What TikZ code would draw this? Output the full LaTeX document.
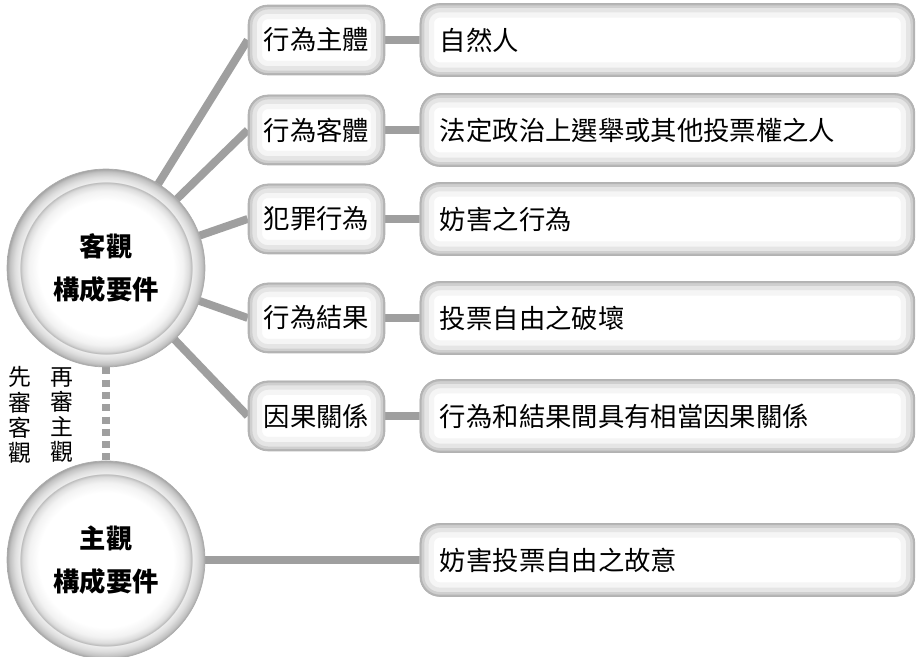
\documentclass[tikz,border=0pt]{standalone}
\usepackage{fontspec}
\setmainfont{Noto Sans CJK TC}
\usepackage{tikz}
\usetikzlibrary{backgrounds}

\pgfdeclareradialshading{ringshade}{\pgfpoint{0bp}{0bp}}{color(0bp)=(white); color(17bp)=(white); color(19.5bp)=(gray!10); color(21bp)=(gray!28); color(21.7bp)=(gray!55); color(21.8bp)=(gray!14); color(23bp)=(gray!26); color(24.3bp)=(gray!48); color(25bp)=(gray!72); color(50bp)=(gray!72)}

\newcommand{\edgeshade}{%
\draw [rounded corners=0.4cm, line width=16pt, gray!8] (path picture bounding box.south west) rectangle (path picture bounding box.north east);
\draw [rounded corners=0.4cm, line width=10pt, gray!20] (path picture bounding box.south west) rectangle (path picture bounding box.north east);
\draw [rounded corners=0.4cm, line width=5pt, gray!38] (path picture bounding box.south west) rectangle (path picture bounding box.north east);
\draw [rounded corners=0.4cm, line width=2pt, gray!58] (path picture bounding box.south west) rectangle (path picture bounding box.north east);}

\tikzstyle{link} = [draw, line width=4.5pt, gray!75]
\tikzstyle{order} = [link, dash pattern=on 4pt off 3pt]
\tikzstyle{bigcirc} = [circle, minimum size=3.96cm, draw=gray!65, shading=ringshade, align=center, font=\fontsize{15}{24.5}\selectfont\bfseries]
\tikzstyle{pill} = [rectangle, rounded corners=0.4cm, draw=gray!60, fill=white, minimum width=2.74cm, minimum height=1.4cm, font=\fontsize{15}{18}\selectfont, path picture={\edgeshade}]
\tikzstyle{fact} = [pill, minimum width=9.9cm, minimum height=1.46cm, text width=9.1cm, inner xsep=0.4cm, align=left]
\tikzstyle{vtext} = [align=center, inner sep=0pt, font=\fontsize{13}{14.3}\selectfont]

\begin{document}
\begin{tikzpicture}[x=0.02cm, y=-0.02cm]
\useasboundingbox (0,0) rectangle (919,656);

\node [bigcirc] (obj) at (106,268) {客觀\\構成要件};
\node [bigcirc, below of=obj, node distance=5.84cm] (subj) {主觀\\構成要件};

\node [pill] (p1) at (316.5,40) {行為主體};
\node [pill, below of=p1, node distance=1.8cm] (p2) {行為客體};
\node [pill, below of=p2, node distance=1.78cm] (p3) {犯罪行為};
\node [pill, below of=p3, node distance=1.98cm] (p4) {行為結果};
\node [pill, below of=p4, node distance=1.96cm] (p5) {因果關係};

\node [fact, right of=p1, node distance=7.02cm] (d1) {自然人};
\node [fact, right of=p2, node distance=7.02cm] (d2) {法定政治上選舉或其他投票權之人};
\node [fact, right of=p3, node distance=7.02cm] (d3) {妨害之行為};
\node [fact, right of=p4, node distance=7.02cm] (d4) {投票自由之破壞};
\node [fact, right of=p5, node distance=7.02cm] (d5) {行為和結果間具有相當因果關係};
\node [fact, right of=subj, node distance=11.23cm] (d6) {妨害投票自由之故意};

\node [vtext] (first) at (20,415) {先\\審\\客\\觀};
\node [vtext, right of=first, node distance=0.84cm] (then) {再\\審\\主\\觀};

\begin{scope}[on background layer]
\path [link] (obj.center) to (p1.west);
\path [link] (obj.center) to (p2.west);
\path [link] (obj.center) to (p3.west);
\path [link] (obj.center) to (p4.west);
\path [link] (obj.center) to (p5.west);

\path [link] (p1.east) to (d1.west);
\path [link] (p2.east) to (d2.west);
\path [link] (p3.east) to (d3.west);
\path [link] (p4.east) to (d4.west);
\path [link] (p5.east) to (d5.west);
\path [link] (subj.center) to (d6.west);

\path [order] (obj.south) to (subj.north);
\end{scope}

\end{tikzpicture}
\end{document}
